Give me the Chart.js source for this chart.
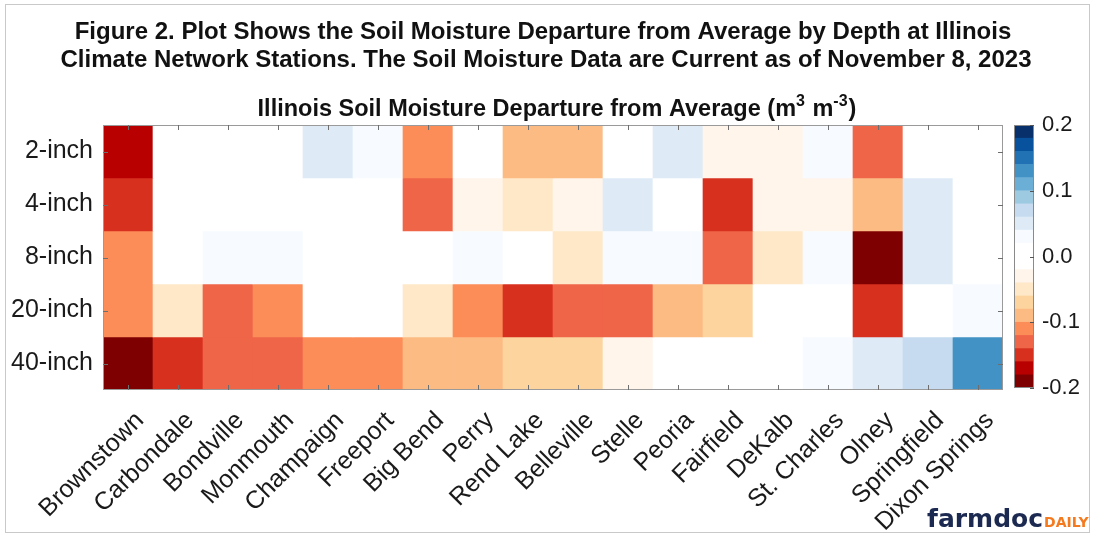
<!DOCTYPE html>
<html>
<head>
<meta charset="utf-8">
<title>Illinois Soil Moisture Departure from Average</title>
<script src="https://cdn.jsdelivr.net/npm/chart.js@4.4.1/dist/chart.umd.min.js"></script>
<style>
  html, body { margin: 0; padding: 0; background: #ffffff; }
  #wrap { position: relative; width: 1095px; height: 539px; overflow: hidden; }
  #main { position: absolute; left: 0; top: 0; }
  #bar { position: absolute; left: 1000px; top: 100px; }
</style>
</head>
<body>
<div id="wrap">
  <canvas id="main" width="1095" height="539"></canvas>
  <canvas id="bar" width="95" height="310"></canvas>
</div>
<script>
// Illinois Climate Network stations, in the order shown along the x axis
const stations = ['Brownstown', 'Carbondale', 'Bondville', 'Monmouth', 'Champaign', 'Freeport',
  'Big Bend', 'Perry', 'Rend Lake', 'Belleville', 'Stelle', 'Peoria', 'Fairfield', 'DeKalb',
  'St. Charles', 'Olney', 'Springfield', 'Dixon Springs'];

const depths = ['2-inch', '4-inch', '8-inch', '20-inch', '40-inch'];

// Soil moisture departure from average (m3 m-3), one array per depth, same order as stations
const dep2in  = [-0.172, 0.005, 0.001, 0.008, 0.052, 0.028, -0.113, -0.003, -0.091, -0.094, 0.006, 0.048, -0.031, -0.027, 0.029, -0.129, 0.011, 0.006];
const dep4in  = [-0.148, -0.008, -0.006, 0.003, 0.002, 0.006, -0.131, -0.028, -0.053, -0.035, 0.046, -0.007, -0.146, -0.036, -0.024, -0.086, 0.044, -0.002];
const dep8in  = [-0.108, 0.004, 0.027, 0.031, 0.007, -0.002, 0.004, 0.024, -0.009, -0.046, 0.032, 0.026, -0.133, -0.055, 0.023, -0.197, 0.047, 0.013];
const dep20in = [-0.113, -0.052, -0.128, -0.107, -0.004, 0.001, -0.047, -0.114, -0.153, -0.124, -0.127, -0.089, -0.073, 0.009, -0.001, -0.152, 0.004, 0.034];
const dep40in = [-0.195, -0.151, -0.132, -0.126, -0.112, -0.109, -0.092, -0.087, -0.071, -0.068, -0.025, 0.003, -0.005, 0.002, 0.025, 0.054, 0.068, 0.127];
const departures = [dep2in, dep4in, dep8in, dep20in, dep40in];

// Colour classes of the colorbar: edges and one colour per class
const levels = [-0.20, -0.18, -0.16, -0.14, -0.12, -0.10, -0.08, -0.06, -0.04, -0.02, 0.00,
  0.02, 0.04, 0.06, 0.08, 0.10, 0.12, 0.14, 0.16, 0.18, 0.20];
const palette = ['#7f0000', '#b80000', '#d7301f', '#ef6548', '#fc8d59', '#fdbb84', '#fdd49e', '#fee8c8', '#fff5eb', '#ffffff',
  '#ffffff', '#f7fbff', '#deebf7', '#c6dbef', '#9ecae1', '#6baed6', '#4292c6', '#2171b5', '#08519c', '#08306b'];
const colorbarTicks = [-0.2, -0.1, 0.0, 0.1, 0.2];

const FONT = '"Liberation Sans", Arial, Helvetica, sans-serif';
const TEXT = '#1a1a1a';

function colorFor(v) {
  for (let k = 0; k < palette.length; k++) {
    if (v < levels[k + 1]) return palette[k];
  }
  return palette[palette.length - 1];
}

// Outer frame, titles, axes box with inward ticks, and the wordmark
const decorations = {
  id: 'decorations',
  beforeDraw(chart) {
    const ctx = chart.ctx;
    ctx.save();
    ctx.fillStyle = '#ffffff';
    ctx.fillRect(0, 0, chart.width, chart.height);
    ctx.strokeStyle = '#c9c9c9';
    ctx.lineWidth = 1;
    ctx.strokeRect(5.5, 4.5, 1084, 528);
    ctx.restore();
  },
  afterDatasetsDraw(chart) {
    const { ctx, chartArea: a, scales: { x, y } } = chart;
    ctx.save();
    ctx.strokeStyle = '#9a9a9a';
    ctx.lineWidth = 1;
    ctx.strokeRect(a.left + 0.5, a.top + 0.5, a.width - 1, a.height - 1);
    ctx.strokeStyle = '#6e6e6e';
    ctx.beginPath();
    x.ticks.forEach((t, i) => {
      const px = Math.round(x.getPixelForTick(i)) + 0.5;
      ctx.moveTo(px, a.top); ctx.lineTo(px, a.top + 5);
      ctx.moveTo(px, a.bottom); ctx.lineTo(px, a.bottom - 5);
    });
    y.ticks.forEach((t, i) => {
      const py = Math.round(y.getPixelForTick(i)) + 0.5;
      ctx.moveTo(a.left, py); ctx.lineTo(a.left + 5, py);
      ctx.moveTo(a.right, py); ctx.lineTo(a.right - 5, py);
    });
    ctx.stroke();
    ctx.restore();
  },
  afterDraw(chart) {
    const { ctx, chartArea: a } = chart;
    ctx.save();
    // figure caption
    ctx.fillStyle = '#111111';
    ctx.textAlign = 'center';
    ctx.textBaseline = 'alphabetic';
    ctx.font = 'bold 24px ' + FONT;
    ctx.fillText('Figure 2. Plot Shows the Soil Moisture Departure from Average by Depth at Illinois', 543, 39);
    ctx.fillText('Climate Network Stations. The Soil Moisture Data are Current as of November 8, 2023', 546, 67);

    // axes title with superscript units
    const parts = [
      { t: 'Illinois Soil Moisture Departure from Average (m', sup: false },
      { t: '3', sup: true },
      { t: ' m', sup: false },
      { t: '-3', sup: true },
      { t: ')', sup: false }
    ];
    const mainFont = 'bold 23.5px ' + FONT;
    const supFont = 'bold 16px ' + FONT;
    let total = 0;
    parts.forEach(p => { ctx.font = p.sup ? supFont : mainFont; p.w = ctx.measureText(p.t).width + (p.sup ? 1 : 0); total += p.w; });
    let cx = (a.left + a.right) / 2 + 4 - total / 2;
    const base = 116;
    ctx.textAlign = 'left';
    parts.forEach(p => {
      ctx.font = p.sup ? supFont : mainFont;
      ctx.fillText(p.t, cx, p.sup ? base - 10 : base);
      cx += p.w;
    });

    // farmdocDAILY wordmark
    ctx.font = 'bold 25px "DejaVu Sans", sans-serif';
    ctx.fillStyle = '#1c2a52';
    ctx.fillText('farmdoc', 927, 527);
    const fw = ctx.measureText('farmdoc').width;
    ctx.font = 'bold 14px "DejaVu Sans", sans-serif';
    ctx.fillStyle = '#f47a20';
    ctx.fillText('DAILY', 927 + fw + 1, 527);
    ctx.restore();
  }
};

const datasets = depths.map((d, i) => ({
  label: d,
  data: stations.map(() => [i - 0.5, i + 0.5]),
  departure: departures[i],
  backgroundColor: departures[i].map(colorFor),
  borderWidth: 0,
  grouped: false,
  barPercentage: 1,
  categoryPercentage: 1
}));

new Chart(document.getElementById('main'), {
  type: 'bar',
  data: { labels: stations, datasets },
  options: {
    responsive: false,
    animation: false,
    devicePixelRatio: 1,
    layout: { padding: { left: 0, right: 92, top: 125, bottom: 9 } },
    plugins: { legend: { display: false }, tooltip: { enabled: false }, title: { display: false } },
    scales: {
      x: {
        type: 'category',
        grid: { display: false },
        border: { display: false },
        afterFit: s => { s.height = 140; },
        ticks: {
          autoSkip: false,
          minRotation: 45,
          maxRotation: 45,
          padding: 8,
          labelOffset: 12,
          color: TEXT,
          font: { family: FONT, size: 25 }
        }
      },
      y: {
        type: 'linear',
        min: -0.5,
        max: 4.5,
        reverse: true,
        grid: { display: false, drawTicks: false },
        border: { display: false },
        afterFit: s => { s.width = 103; },
        afterBuildTicks: s => { s.ticks = depths.map((d, i) => ({ value: i })); },
        ticks: {
          padding: 10,
          color: TEXT,
          font: { family: FONT, size: 25 },
          callback: v => depths[v]
        }
      }
    }
  },
  plugins: [decorations]
});

// Colorbar: one floating bar segment per colour class
const colorbarFrame = {
  id: 'colorbarFrame',
  afterDatasetsDraw(chart) {
    const { ctx, chartArea: a, scales: { y } } = chart;
    ctx.save();
    ctx.strokeStyle = '#8a8a8a';
    ctx.lineWidth = 1;
    ctx.strokeRect(a.left + 0.5, a.top + 0.5, a.width - 1, a.height - 1);
    ctx.strokeStyle = '#555555';
    ctx.beginPath();
    colorbarTicks.forEach(v => {
      const py = Math.round(y.getPixelForValue(v)) + 0.5;
      ctx.moveTo(a.right, py); ctx.lineTo(a.right - 4, py);
    });
    ctx.stroke();
    ctx.restore();
  }
};

new Chart(document.getElementById('bar'), {
  type: 'bar',
  data: {
    labels: ['colorbar'],
    datasets: palette.map((c, k) => ({
      data: [[levels[k], levels[k + 1]]],
      backgroundColor: c,
      borderWidth: 0,
      grouped: false,
      barPercentage: 1,
      categoryPercentage: 1
    }))
  },
  options: {
    responsive: false,
    animation: false,
    devicePixelRatio: 1,
    layout: { padding: { left: 14, right: 6, top: 25, bottom: 22 } },
    plugins: { legend: { display: false }, tooltip: { enabled: false } },
    scales: {
      x: { display: false },
      y: {
        type: 'linear',
        position: 'right',
        min: -0.2,
        max: 0.2,
        grid: { display: false, drawTicks: false },
        border: { display: false },
        afterFit: s => { s.width = 55; },
        afterBuildTicks: s => { s.ticks = colorbarTicks.map(v => ({ value: v })); },
        ticks: {
          padding: 8,
          color: TEXT,
          font: { family: FONT, size: 22 },
          callback: v => (Math.abs(v) < 1e-9 ? 0 : v).toFixed(1)
        }
      }
    }
  },
  plugins: [colorbarFrame]
});
</script>
</body>
</html>
